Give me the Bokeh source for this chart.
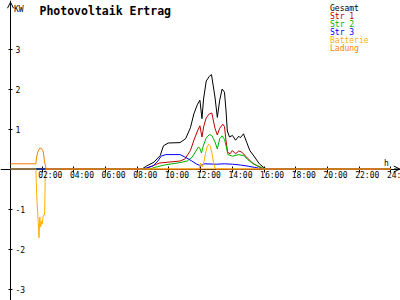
from bokeh.plotting import figure
from bokeh.models import (LinearAxis, FixedTicker, Range1d, Label, Arrow,
                          OpenHead, ColumnDataSource)
from bokeh.embed import file_html
from bokeh.resources import INLINE
from bokeh.core.properties import value

# ---------------- data (hours of day, kW) ----------------
gesamt_h = [0, 8.3, 8.6, 9.05, 9.45, 9.65, 9.95, 10.7, 11.05, 11.35, 11.57, 11.8,
            11.95, 12.08, 12.18, 12.35, 12.55, 12.68, 12.9, 13.05, 13.2, 13.35,
            13.5, 13.6, 13.68, 13.82, 14.0, 14.2, 14.4, 14.5, 14.7, 14.9, 15.1,
            15.4, 15.7, 16.0, 16.2, 24]
gesamt_v = [0, 0, 0.08, 0.17, 0.34, 0.58, 0.65, 0.66, 0.76, 1.03, 1.38, 1.62,
            1.72, 1.26, 1.75, 2.2, 2.32, 2.36, 1.8, 1.29, 1.72, 2.0,
            1.92, 1.45, 0.95, 0.8, 0.84, 0.72, 0.82, 0.78, 0.88, 0.67, 0.46,
            0.3, 0.13, 0.03, 0, 0]

str1_h = [0, 8.5, 8.8, 9.4, 10.7, 11.0, 11.35, 11.6, 11.8, 11.95, 12.08, 12.2,
          12.35, 12.55, 12.7, 12.9, 13.05, 13.2, 13.4, 13.5, 13.6, 13.7, 13.85,
          14.0, 14.2, 14.4, 14.6, 14.95, 15.3, 15.8, 16.0, 24]
str1_v = [0, 0, 0.05, 0.15, 0.2, 0.25, 0.46, 0.75, 0.95, 1.08, 0.8, 1.08,
          1.28, 1.38, 1.4, 1.02, 0.85, 1.02, 1.12, 1.06, 0.7, 0.42, 0.38,
          0.46, 0.38, 0.45, 0.42, 0.27, 0.14, 0.03, 0, 0]

str2_h = [0, 8.8, 9.1, 9.7, 10.7, 11.15, 11.47, 11.7, 11.85, 11.95, 12.05, 12.15,
          12.35, 12.55, 12.7, 12.9, 13.05, 13.2, 13.35, 13.5, 13.62, 13.72, 14.0,
          14.4, 14.75, 14.95, 15.35, 15.9, 16.1, 24]
str2_v = [0, 0, 0.04, 0.1, 0.16, 0.2, 0.3, 0.45, 0.55, 0.52, 0.4, 0.56,
          0.78, 0.86, 0.84, 0.68, 0.5, 0.76, 0.83, 0.74, 0.55, 0.36, 0.32,
          0.36, 0.33, 0.24, 0.12, 0.03, 0, 0]

str3_h = [0, 8.3, 8.6, 9.0, 9.3, 9.5, 9.8, 10.7, 11.0, 11.4, 11.75, 12.0, 12.2,
          13.0, 13.5, 14.0, 14.5, 15.0, 15.4, 15.8, 16.0, 24]
str3_v = [0, 0, 0.03, 0.08, 0.2, 0.32, 0.36, 0.36, 0.3, 0.21, 0.12, 0.08, 0.13,
          0.12, 0.13, 0.12, 0.1, 0.07, 0.04, 0.01, 0, 0]

batt_h = [0, 1.6, 1.65, 1.7, 1.75, 1.8, 1.85, 1.9, 1.95, 2.0, 2.05, 2.1, 2.15,
          2.2, 2.25, 11.9, 12.0, 12.1, 12.2, 12.3, 12.4, 12.5, 12.6, 12.7,
          12.8, 12.9, 13.0, 24]
batt_v = [0, 0, -0.62, -1.0, -1.33, -1.72, -1.2, -1.45, -1.3, -1.38, -1.2,
          -1.15, -1.15, -0.05, 0, 0, 0.15, 0.05, 0.18, 0.38, 0.55, 0.62, 0.57,
          0.42, 0.18, 0.02, 0, 0]

ladung_h = [0, 1.6, 1.65, 1.72, 1.84, 1.95, 2.04, 2.1, 2.14, 2.25, 24]
ladung_v = [0.13, 0.13, 0.3, 0.42, 0.52, 0.52, 0.46, 0.35, 0.2, 0, 0]

x_ticks = [2, 4, 6, 8, 10, 12, 14, 16, 18, 20, 22, 24]
x_tick_labels = ["02:00", "04:00", "06:00", "08:00", "10:00", "12:00",
                 "14:00", "16:00", "18:00", "20:00", "22:00", "24:00"]
y_ticks = [-3, -2, -1, 1, 2, 3]
y_tick_labels = ["-3", "-2", "-1", "1", "2", "3"]

series = [
    ("Gesamt", gesamt_h, gesamt_v, "#000000"),
    ("Str 1", str1_h, str1_v, "#C00000"),
    ("Str 2", str2_h, str2_v, "#00B000"),
    ("Str 3", str3_h, str3_v, "#0000FF"),
    ("Batterie", batt_h, batt_v, "#FFB000"),
    ("Ladung", ladung_h, ladung_v, "#FF8000"),
]

MONO = "DejaVu Sans Mono"

p = figure(width=400, height=300, output_backend="svg", toolbar_location=None,
           x_range=Range1d(-0.631, 24.606), y_range=Range1d(-3.2875, 4.2125),
           x_axis_type=None, y_axis_type=None,
           min_border=0, min_border_left=0, min_border_right=0,
           min_border_top=0, min_border_bottom=0)
p.outline_line_color = None
p.background_fill_color = "white"
p.border_fill_color = "white"

# axes drawn through the zero lines
xaxis = LinearAxis(fixed_location=0, ticker=FixedTicker(ticks=x_ticks, minor_ticks=[]),
                   axis_line_color="black", major_tick_in=3, major_tick_out=3,
                   major_tick_line_color="black", minor_tick_line_color=None,
                   major_label_text_color=None, level="underlay")
p.add_layout(xaxis, "below")

yaxis = LinearAxis(fixed_location=0, ticker=FixedTicker(ticks=y_ticks, minor_ticks=[]),
                   axis_line_color="black", major_tick_in=2, major_tick_out=2,
                   major_tick_line_color="black", minor_tick_line_color=None,
                   major_label_standoff=3,
                   major_label_overrides={t: s for t, s in zip(y_ticks, y_tick_labels)},
                   major_label_text_font=MONO, major_label_text_font_size="8px",
                   major_label_text_color="black", level="underlay")
p.add_layout(yaxis, "right")

p.add_layout(Arrow(end=OpenHead(size=6, line_width=1, line_color="black"),
                   x_start=24.2, y_start=0, x_end=24.56, y_end=0,
                   line_color="black", line_width=1))
p.add_layout(Arrow(end=OpenHead(size=6, line_width=1, line_color="black"),
                   x_start=0, y_start=3.9, x_end=0, y_end=4.17,
                   line_color="black", line_width=1))

for name, hs, vs, col in series:
    p.line(hs, vs, line_color=col, line_width=1)

# x tick labels (left-aligned at the ticks as in the original)
p.text(x=x_ticks, y=[0] * len(x_ticks), text=x_tick_labels,
       text_font=value(MONO), text_font_size="8px", text_color="black",
       text_align="left", text_baseline="top", x_offset=-4, y_offset=2)

# axis units
p.add_layout(Label(x=13.5, y=300 - 8.5, x_units="screen", y_units="screen",
                   text="KW", text_font=MONO, text_font_size="8px",
                   text_color="black", text_baseline="alphabetic"))
p.add_layout(Label(x=383.5, y=300 - 162.5, x_units="screen", y_units="screen",
                   text="h", text_font=MONO, text_font_size="8px",
                   text_color="black", text_baseline="alphabetic"))

# title
p.add_layout(Label(x=39, y=300 - 10, x_units="screen", y_units="screen",
                   text="Photovoltaik Ertrag", text_font=MONO,
                   text_font_size="11.5px", text_font_style="bold",
                   text_color="black", text_baseline="alphabetic"))

# legend as coloured text
for i, (name, hs, vs, col) in enumerate(series):
    p.add_layout(Label(x=329.5, y=300 - (7.5 + 8 * i), x_units="screen",
                       y_units="screen", text=name, text_font=MONO,
                       text_font_size="8px", text_color=col,
                       text_baseline="alphabetic"))

open("out.html", "w").write(file_html(p, INLINE))
